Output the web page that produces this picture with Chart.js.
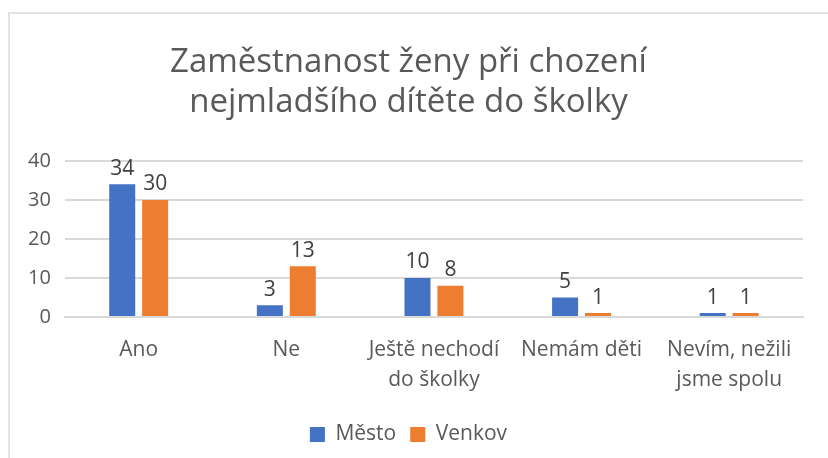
<!DOCTYPE html>
<html>
<head>
<meta charset="utf-8">
<script src="https://cdn.jsdelivr.net/npm/chart.js@4"></script>
<style>
  body { margin: 0; background: #fff; }
  #wrap { position: absolute; left: 0; top: 0; width: 828px; height: 458px; }
  #frame { position: absolute; left: 8px; top: 12px; width: 840px; height: 470px; border: 2px solid #e3e3e3; box-sizing: border-box; }
</style>
</head>
<body>
<div id="wrap">
  <div id="frame"></div>
  <canvas id="myChart" width="828" height="458"></canvas>
</div>
<script>
const labels = [
  "Ano",
  "Ne",
  ["Ještě nechodí", "do školky"],
  "Nemám děti",
  ["Nevím, nežili", "jsme spolu"]
];
const mesto = [34, 3, 10, 5, 1];
const venkov = [30, 13, 8, 1, 1];
const yTicks = [0, 10, 20, 30, 40];

const fontFam = "'Open Sans', 'Noto Sans', sans-serif";

// value labels above bars
const valueLabels = {
  id: 'valueLabels',
  afterDatasetsDraw(chart) {
    const ctx = chart.ctx;
    ctx.save();
    ctx.font = "21px " + fontFam;
    ctx.fillStyle = '#404040';
    ctx.textAlign = 'center';
    ctx.textBaseline = 'bottom';
    chart.data.datasets.forEach((ds, i) => {
      chart.getDatasetMeta(i).data.forEach((bar, j) => {
        ctx.fillText(ds.data[j], bar.x, bar.y - 5);
      });
    });
    ctx.restore();
  }
};

const data = {
  labels: labels,
  datasets: [
    { label: 'Město', backgroundColor: '#4472C4', data: mesto,
      categoryPercentage: 0.446, barPercentage: 0.79 },
    { label: 'Venkov', backgroundColor: '#ED7D31', data: venkov,
      categoryPercentage: 0.446, barPercentage: 0.79 }
  ]
};

const config = {
  type: 'bar',
  data: data,
  options: {
    responsive: false,
    animation: false,
    layout: { padding: { left: 14, right: 25, top: 4, bottom: 3 } },
    plugins: {
      title: {
        display: true,
        text: ['Zaměstnanost ženy při chození', 'nejmladšího dítěte do školky'],
        color: '#595959',
        font: { family: fontFam, size: 33, weight: 'normal', lineHeight: 1.21 },
        padding: { top: 39, bottom: 38 }
      },
      legend: {
        position: 'bottom',
        title: { display: true, text: ' ', font: { size: 1, lineHeight: 1 }, padding: { top: 0, bottom: 4 } },
        labels: {
          color: '#595959',
          font: { family: fontFam, size: 21 },
          boxWidth: 15, boxHeight: 15, padding: 14
        }
      },
      tooltip: { enabled: false }
    },
    scales: {
      x: {
        grid: { display: false },
        border: { color: '#d9d9d9', width: 2 },
        ticks: { color: '#595959', font: { family: fontFam, size: 21, lineHeight: 1.43 }, maxRotation: 0, autoSkip: false, padding: 10 }
      },
      y: {
        min: yTicks[0],
        max: yTicks[yTicks.length - 1],
        afterBuildTicks(axis) { axis.ticks = yTicks.map(v => ({ value: v })); },
        grid: { color: '#d9d9d9', lineWidth: 2, drawTicks: false },
        border: { display: false },
        ticks: { color: '#595959', font: { family: fontFam, size: 20 }, padding: 14 }
      }
    }
  },
  plugins: [valueLabels]
};

var myChart = new Chart(document.getElementById('myChart'), config);
</script>
</body>
</html>
